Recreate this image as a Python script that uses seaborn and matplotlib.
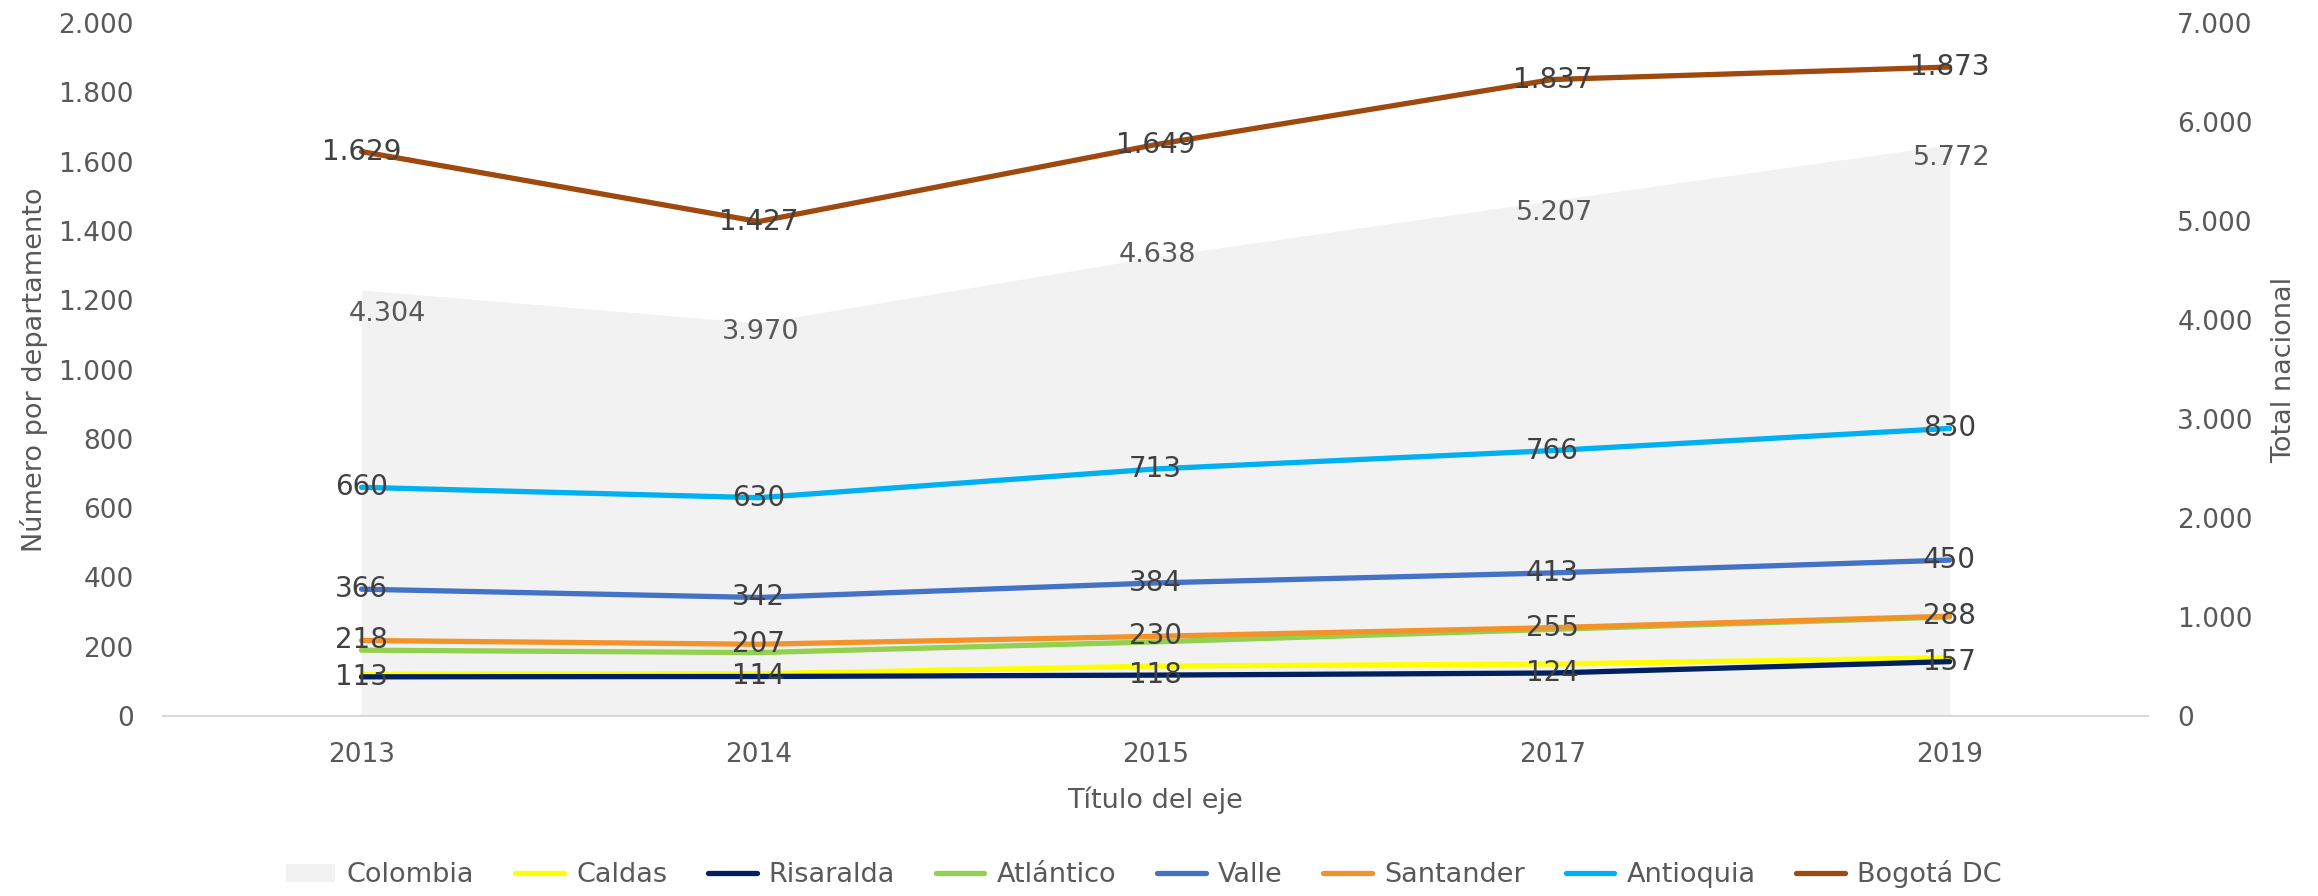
import pandas as pd
import matplotlib.pyplot as plt
import seaborn as sns
from matplotlib.patches import Patch
from matplotlib.lines import Line2D

# Chart data
years = ["2013", "2014", "2015", "2017", "2019"]
colombia = [4304, 3970, 4638, 5207, 5772]
caldas = [120, 122, 144, 150, 168]
risaralda = [113, 114, 118, 124, 157]
atlantico = [190, 183, 214, 250, 286]
valle = [366, 342, 384, 413, 450]
santander = [218, 207, 230, 255, 288]
antioquia = [660, 630, 713, 766, 830]
bogota = [1629, 1427, 1649, 1837, 1873]

departments = ["Caldas", "Risaralda", "Atlántico", "Valle", "Santander", "Antioquia", "Bogotá DC"]
series = [caldas, risaralda, atlantico, valle, santander, antioquia, bogota]
colors = ["#FFFF00", "#002060", "#92D050", "#4472C4", "#F4922A", "#00B0F0", "#A0490E"]
labelled = ["Risaralda", "Valle", "Santander", "Antioquia", "Bogotá DC"]

sns.set_style("white")
plt.rcParams["font.family"] = ["DejaVu Sans"]

rows = []
for name, vals in zip(departments, series):
    for i, v in enumerate(vals):
        rows.append({"pos": i, "Departamento": name, "value": v})
df = pd.DataFrame(rows)

def fmt(v):
    return f"{v:,}".replace(",", ".")

fig = plt.figure(figsize=(23.18, 8.96), dpi=100)
ax = fig.add_axes([0.0703, 0.2009, 0.8564, 0.7734])
ax2 = ax.twinx()

# national total as grey area on the right axis, kept behind the lines
pos = list(range(len(years)))
ax2.fill_between(pos, colombia, color="#F2F2F2", lw=0)
ax2.set_ylim(0, 7000)
ax2.set_yticks(range(0, 7001, 1000))
ax2.set_yticklabels([fmt(t) for t in range(0, 7001, 1000)])
col_offsets = [(19, -17), (1.5, -6.5), (1.5, 1.5), (1.5, -9), (1.5, -9.5)]
for i, v in enumerate(colombia):
    ax2.annotate(fmt(v), (i, v), xytext=col_offsets[i], textcoords="offset points",
                 ha="center", va="center", fontsize=19.5, color="#595959")

ax.set_zorder(ax2.get_zorder() + 1)
ax.patch.set_visible(False)

sns.lineplot(data=df, x="pos", y="value", hue="Departamento", hue_order=departments,
             palette=dict(zip(departments, colors)), linewidth=3.8, ax=ax, legend=False)

for name, vals in zip(departments, series):
    if name in labelled:
        for i, v in enumerate(vals):
            ax.text(i, v, fmt(v), ha="center", va="center", fontsize=20, color="#404040")

ax.set_xlim(-0.5, 4.5)
ax.set_ylim(0, 2000)
ax.set_xticks(pos)
ax.set_xticklabels(years)
ax.set_yticks(range(0, 2001, 200))
ax.set_yticklabels([fmt(t) for t in range(0, 2001, 200)])

for a in (ax, ax2):
    for s in a.spines.values():
        s.set_visible(False)
    a.tick_params(length=0, labelsize=19, labelcolor="#595959")
ax.spines["bottom"].set_visible(True)
ax.spines["bottom"].set_color("#D9D9D9")
ax.spines["bottom"].set_linewidth(1.5)
ax.tick_params(axis="y", pad=21)
ax.tick_params(axis="x", pad=19)
ax2.tick_params(axis="y", pad=21)

ax.set_xlabel("Título del eje", fontsize=19.5, color="#595959")
ax.xaxis.set_label_coords(0.5, -0.102)
ax.set_ylabel("Número por departamento", fontsize=19.5, color="#595959")
ax.yaxis.set_label_coords(-0.058, 0.5)
ax2.set_ylabel("Total nacional", fontsize=19.5, color="#595959")
ax2.yaxis.set_label_coords(1.062, 0.5)

handles = [Patch(facecolor="#F2F2F2", edgecolor="none")]
handles += [Line2D([0], [0], color=c, lw=3.8) for c in colors]
fig.legend(handles, ["Colombia"] + departments, loc="center", bbox_to_anchor=(0.4935, 0.024),
           ncol=8, frameon=False, fontsize=19.5, labelcolor="#595959",
           handlelength=1.8, handletextpad=0.45, columnspacing=1.5)

fig.savefig("out.png", dpi=100)
